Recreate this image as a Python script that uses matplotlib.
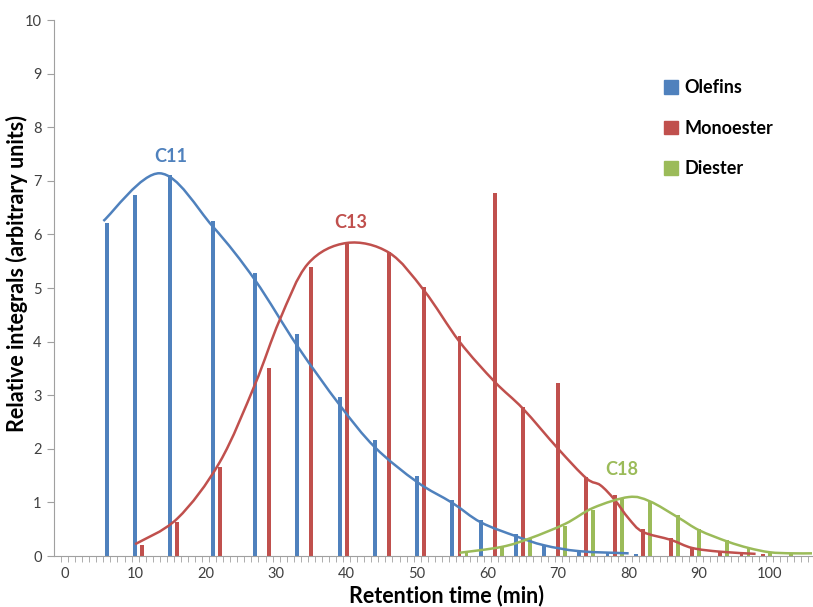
import numpy as np
import matplotlib
matplotlib.use('Agg')
import matplotlib.pyplot as plt
from matplotlib.path import Path
from matplotlib.patches import PathPatch, Patch

plt.rcParams['font.family'] = ['Lato', 'DejaVu Sans']

BLUE, RED, GREEN = '#4F81BD', '#C0504D', '#9BBB59'

# bars (retention time, relative integral)
olefin_t = [6, 10, 15, 21, 27, 33, 39, 44, 50, 55, 59, 64, 68, 73, 77, 81]
olefin_h = [6.22, 6.74, 7.10, 6.25, 5.28, 4.14, 2.97, 2.17, 1.49, 1.04, 0.67, 0.41, 0.19, 0.09, 0.06, 0.04]

mono_t = [11, 16, 22, 29, 35, 40, 46, 51, 56, 61, 65, 70, 74, 78, 82, 86, 89, 93, 96, 99]
mono_h = [0.20, 0.63, 1.66, 3.51, 5.39, 5.82, 5.67, 5.02, 4.10, 6.77, 2.78, 3.23, 1.48, 1.14, 0.50, 0.33, 0.14, 0.08, 0.06, 0.04]

di_t = [57, 62, 66, 71, 75, 79, 83, 87, 90, 94, 97, 100, 103]
di_h = [0.06, 0.17, 0.32, 0.56, 0.85, 1.08, 1.03, 0.77, 0.50, 0.30, 0.17, 0.07, 0.03]

# smoothed envelope curves (knots)
olefin_cx = [5.5, 13.5, 21, 27, 33, 39, 44, 50, 55, 59, 64, 68, 73, 80]
olefin_cy = [6.25, 7.14, 6.15, 5.15, 3.92, 2.82, 2.03, 1.38, 0.99, 0.63, 0.37, 0.20, 0.09, 0.05]

mono_cx = [10, 16, 22, 27, 30.5, 34.5, 40, 46, 51, 56, 61, 65, 70, 74, 76, 78, 80, 82, 86, 89, 93, 98]
mono_cy = [0.22, 0.70, 1.75, 3.2, 4.4, 5.45, 5.84, 5.66, 4.95, 4.0, 3.25, 2.75, 2.0, 1.45, 1.32, 1.05, 0.70, 0.45, 0.30, 0.15, 0.08, 0.04]

di_cx = [56, 62, 66, 71, 75, 80, 83, 87, 90, 94, 97, 100, 103, 106]
di_cy = [0.06, 0.17, 0.33, 0.60, 0.90, 1.10, 1.02, 0.72, 0.48, 0.27, 0.15, 0.07, 0.05, 0.05]

series_names = ['Olefins', 'Monoester', 'Diester']


def smooth_path(xs, ys):
    # Excel-like smoothed line: cubic Bezier segments through the knots
    p = np.column_stack([xs, ys]).astype(float)
    verts = [p[0]]
    codes = [Path.MOVETO]
    n = len(p)
    for i in range(n - 1):
        p0 = p[i - 1] if i > 0 else p[i]
        p1, p2 = p[i], p[i + 1]
        p3 = p[i + 2] if i + 2 < n else p[i + 1]
        c1 = p1 + (p2 - p0) / 6.0
        c2 = p2 - (p3 - p1) / 6.0
        verts += [c1, c2, p2]
        codes += [Path.CURVE4] * 3
    return Path(verts, codes)


fig = plt.figure(figsize=(8.13, 6.07), dpi=100)
ax = fig.add_axes([54 / 813, 51 / 607, 758 / 813, 536 / 607])

w = 0.55
ax.bar(olefin_t, olefin_h, width=w, color=BLUE, zorder=2)
ax.bar(mono_t, mono_h, width=w, color=RED, zorder=2)
ax.bar(di_t, di_h, width=w, color=GREEN, zorder=2)

for cx, cy, col in [(olefin_cx, olefin_cy, BLUE), (mono_cx, mono_cy, RED), (di_cx, di_cy, GREEN)]:
    ax.add_patch(PathPatch(smooth_path(cx, cy), fill=False, edgecolor=col, lw=1.8, zorder=3))

ax.text(15, 7.45, 'C11', color=BLUE, fontsize=13, fontweight='bold', ha='center', va='center')
ax.text(40.6, 6.23, 'C13', color=RED, fontsize=13, fontweight='bold', ha='center', va='center')
ax.text(79, 1.62, 'C18', color=GREEN, fontsize=13, fontweight='bold', ha='center', va='center')

ax.set_xlim(-1.5, 106)
ax.set_ylim(0, 10)
ax.set_xticks(np.arange(0, 101, 10))
ax.set_xticks(np.arange(-0.5, 106, 1), minor=True)
ax.set_yticks(np.arange(0, 11, 1))
ax.tick_params(axis='x', which='major', length=0, pad=8, labelsize=10.5, colors='#404040')
ax.tick_params(axis='x', which='minor', length=4, color='#A0A0A0', direction='out')
ax.tick_params(axis='y', which='major', length=5, color='#A0A0A0', labelsize=10.5, labelcolor='#404040', pad=4)
for s in ['top', 'right']:
    ax.spines[s].set_visible(False)
for s in ['left', 'bottom']:
    ax.spines[s].set_color('#A0A0A0')

ax.set_xlabel('Retention time (min)', fontsize=15.5, fontweight='bold')
ax.xaxis.set_label_coords(392 / 758, -29 / 536)
ax.set_ylabel('Relative integrals (arbitrary units)', fontsize=15.5, fontweight='bold')
ax.yaxis.set_label_coords(-26 / 758, 283 / 536)

handles = [Patch(color=c) for c in (BLUE, RED, GREEN)]
leg = fig.legend(handles, series_names, loc='upper left', bbox_to_anchor=(648 / 813, 1 - 63 / 607),
                 frameon=False, handlelength=0.75, handleheight=0.75, handletextpad=0.35,
                 labelspacing=1.3, prop={'size': 13, 'weight': 'bold'})

fig.savefig('out.png', dpi=100)
